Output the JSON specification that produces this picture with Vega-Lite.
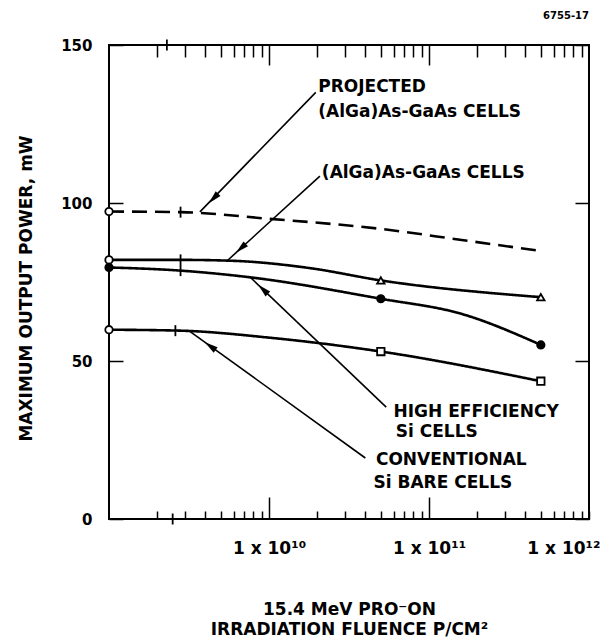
{
  "$schema": "https://vega.github.io/schema/vega-lite/v6.json",
  "width": 480,
  "height": 474,
  "autosize": "none",
  "padding": {"left": 109, "top": 45, "right": 17, "bottom": 122},
  "background": "white",
  "config": {"font": "DejaVu Sans", "view": {"stroke": "black", "strokeWidth": 2}},
  "title": {"text": "6755-17", "anchor": "end", "frame": "group", "fontSize": 10, "font": "DejaVu Sans", "fontWeight": "bold", "offset": 17, "color": "black"},
  "datasets": {
    "lines": [
      {"series": "projected", "fluence": 1e9, "power": 97.3},
      {"series": "projected", "fluence": 2.8e9, "power": 97.1},
      {"series": "projected", "fluence": 1e10, "power": 95.0},
      {"series": "projected", "fluence": 5e10, "power": 91.8},
      {"series": "projected", "fluence": 1.6e11, "power": 88.3},
      {"series": "projected", "fluence": 5e11, "power": 84.8},
      {"series": "algaas", "fluence": 1e9, "power": 82.0},
      {"series": "algaas", "fluence": 2.8e9, "power": 82.0},
      {"series": "algaas", "fluence": 6e9, "power": 81.7},
      {"series": "algaas", "fluence": 1.8e10, "power": 79.4},
      {"series": "algaas", "fluence": 5e10, "power": 75.5},
      {"series": "algaas", "fluence": 5e11, "power": 70.2},
      {"series": "hieff", "fluence": 1e9, "power": 79.6},
      {"series": "hieff", "fluence": 2.8e9, "power": 78.6},
      {"series": "hieff", "fluence": 7.3e9, "power": 76.6},
      {"series": "hieff", "fluence": 5e10, "power": 69.7},
      {"series": "hieff", "fluence": 1.6e11, "power": 64.9},
      {"series": "hieff", "fluence": 5e11, "power": 55.1},
      {"series": "bare", "fluence": 1e9, "power": 59.9},
      {"series": "bare", "fluence": 2.8e9, "power": 59.6},
      {"series": "bare", "fluence": 1e10, "power": 57.4},
      {"series": "bare", "fluence": 5e10, "power": 53.0},
      {"series": "bare", "fluence": 5e11, "power": 43.6}
    ],
    "initial": [
      {"series": "projected", "fluence": 1e9, "power": 97.3},
      {"series": "algaas", "fluence": 1e9, "power": 82.0},
      {"series": "hieff", "fluence": 1e9, "power": 79.6},
      {"series": "bare", "fluence": 1e9, "power": 59.9}
    ],
    "measured": [
      {"series": "algaas", "fluence": 5e10, "power": 75.5},
      {"series": "algaas", "fluence": 5e11, "power": 70.2},
      {"series": "hieff", "fluence": 5e10, "power": 69.7},
      {"series": "hieff", "fluence": 5e11, "power": 55.1},
      {"series": "bare", "fluence": 5e10, "power": 53.0},
      {"series": "bare", "fluence": 5e11, "power": 43.6}
    ],
    "breaks": [
      {"fluence": 2.8e9, "power": 97.1},
      {"fluence": 2.8e9, "power": 82.0},
      {"fluence": 2.8e9, "power": 78.6},
      {"fluence": 2.6e9, "power": 59.6},
      {"fluence": 2.5e9, "power": 0},
      {"fluence": 2.3e9, "power": 150}
    ],
    "leaders": [
      {"id": 1, "fluence": 1.96e10, "power": 135.0, "fluence2": 3.7e9, "power2": 97.2},
      {"id": 2, "fluence": 2.08e10, "power": 108.5, "fluence2": 5.5e9, "power2": 81.8},
      {"id": 3, "fluence": 5.4e10, "power": 35.4, "fluence2": 7.6e9, "power2": 76.6},
      {"id": 4, "fluence": 4.0e10, "power": 19.3, "fluence2": 3.2e9, "power2": 59.4}
    ],
    "arrows": [
      {"id": 1, "fluence": 4.53e9, "power": 101.6},
      {"id": 2, "fluence": 6.72e9, "power": 85.8},
      {"id": 3, "fluence": 9.25e9, "power": 72.5},
      {"id": 4, "fluence": 4.33e9, "power": 54.6}
    ],
    "labels": [
      {"label": "PROJECTED", "fluence": 2.03e10, "power": 136.7},
      {"label": "(AlGa)As-GaAs CELLS", "fluence": 2.03e10, "power": 128.8},
      {"label": "(AlGa)As-GaAs CELLS", "fluence": 2.14e10, "power": 109.5},
      {"label": "HIGH EFFICIENCY", "fluence": 6.0e10, "power": 33.9},
      {"label": "Si CELLS", "fluence": 6.2e10, "power": 27.5},
      {"label": "CONVENTIONAL", "fluence": 4.66e10, "power": 18.7},
      {"label": "Si BARE CELLS", "fluence": 4.5e10, "power": 11.4}
    ]
  },
  "layer": [
    {
      "data": {"name": "lines"},
      "mark": {"type": "line", "interpolate": "monotone", "color": "black", "strokeWidth": 2.6},
      "encoding": {
        "x": {
          "field": "fluence", "type": "quantitative",
          "scale": {"type": "log", "domain": [1e9, 1e12]},
          "axis": {
            "orient": "bottom",
            "values": [2e9, 3e9, 4e9, 5e9, 6e9, 7e9, 8e9, 9e9, 1e10, 2e10, 3e10, 4e10, 5e10, 6e10, 7e10, 8e10, 9e10, 1e11, 2e11, 3e11, 4e11, 5e11, 6e11, 7e11, 8e11, 9e11, 1e12],
            "labelExpr": "datum.value == 1e10 ? '1 x 10¹⁰' : datum.value == 1e11 ? '1 x 10¹¹' : datum.value == 1e12 ? '1 x 10¹²' : ''",
            "tickSize": {"condition": {"test": "datum.value == 1e10 || datum.value == 1e11", "value": -22}, "value": -8},
            "labelPadding": {"condition": {"test": "datum.value == 1e10 || datum.value == 1e11", "value": 43}, "value": 29},
            "tickColor": "black", "tickWidth": 1.5,
            "domain": false, "grid": false,
            "labelOverlap": false,
            "labelFont": "DejaVu Sans", "labelFontWeight": "bold", "labelFontSize": 17, "labelColor": "black",
            "labelFlush": true, "labelFlushOffset": 11,
            "title": ["15.4 MeV PRO⁻ON", "IRRADIATION FLUENCE P/CM²"],
            "titleFont": "DejaVu Sans", "titleFontWeight": "bold", "titleFontSize": 17, "titleColor": "black",
            "titleX": 240, "titleY": 82, "titleAlign": "center", "titleBaseline": "top", "titleLineHeight": 20
          }
        },
        "y": {
          "field": "power", "type": "quantitative",
          "scale": {"domain": [0, 150]},
          "axis": {
            "orient": "left",
            "values": [0, 50, 100, 150],
            "tickSize": -14, "tickWidth": 1.5, "tickColor": "black",
            "domain": false, "grid": false,
            "labelFont": "DejaVu Sans", "labelFontWeight": "bold", "labelFontSize": 15, "labelColor": "black",
            "labelPadding": 31,
            "title": "MAXIMUM OUTPUT POWER, mW",
            "titleFont": "DejaVu Sans", "titleFontWeight": "bold", "titleFontSize": 17, "titleColor": "black",
            "titleX": -83, "titleY": 243, "titleAngle": -90, "titleAlign": "center", "titleBaseline": "middle"
          }
        },
        "detail": {"field": "series"},
        "strokeDash": {
          "field": "series",
          "scale": {"domain": ["projected", "algaas", "hieff", "bare"], "range": [[15, 8], [1, 0], [1, 0], [1, 0]]},
          "legend": null
        }
      }
    },
    {
      "data": {"name": "initial"},
      "mark": {"type": "point", "shape": "circle", "size": 55, "filled": true, "stroke": "black", "strokeWidth": 1.8, "opacity": 1},
      "encoding": {
        "x": {
          "field": "fluence", "type": "quantitative",
          "scale": {"type": "log", "domain": [1e9, 1e12]},
          "axis": {
            "orient": "top",
            "values": [2e9, 3e9, 4e9, 5e9, 6e9, 7e9, 8e9, 9e9, 1e10, 2e10, 3e10, 4e10, 5e10, 6e10, 7e10, 8e10, 9e10, 1e11, 2e11, 3e11, 4e11, 5e11, 6e11, 7e11, 8e11, 9e11],
            "labels": false, "domain": false, "grid": false, "title": null,
            "tickSize": {"condition": {"test": "datum.value == 1e10 || datum.value == 1e11", "value": -20}, "value": -12},
            "tickColor": "black", "tickWidth": 1.5
          }
        },
        "y": {
          "field": "power", "type": "quantitative",
          "scale": {"domain": [0, 150]},
          "axis": {
            "orient": "right", "values": [0, 50, 100, 150],
            "labels": false, "domain": false, "grid": false, "title": null,
            "tickSize": -14, "tickColor": "black", "tickWidth": 1.5
          }
        },
        "fill": {
          "field": "series",
          "scale": {"domain": ["projected", "algaas", "hieff", "bare"], "range": ["white", "white", "black", "white"]},
          "legend": null
        }
      }
    },
    {
      "data": {"name": "measured"},
      "mark": {"type": "point", "size": 55, "filled": true, "stroke": "black", "strokeWidth": 1.8, "opacity": 1},
      "encoding": {
        "x": {"field": "fluence", "type": "quantitative", "scale": {"type": "log", "domain": [1e9, 1e12]}, "axis": null},
        "y": {"field": "power", "type": "quantitative", "scale": {"domain": [0, 150]}, "axis": null},
        "shape": {
          "field": "series",
          "scale": {"domain": ["algaas", "hieff", "bare"], "range": ["triangle-up", "circle", "square"]},
          "legend": null
        },
        "fill": {
          "field": "series",
          "scale": {"domain": ["projected", "algaas", "hieff", "bare"], "range": ["white", "white", "black", "white"]},
          "legend": null
        }
      }
    },
    {
      "data": {"name": "breaks"},
      "mark": {"type": "tick", "orient": "vertical", "color": "black", "size": 11, "thickness": 1.8, "opacity": 1},
      "encoding": {
        "x": {"field": "fluence", "type": "quantitative", "scale": {"type": "log", "domain": [1e9, 1e12]}, "axis": null},
        "y": {"field": "power", "type": "quantitative", "scale": {"domain": [0, 150]}, "axis": null}
      }
    },
    {
      "data": {"name": "leaders"},
      "mark": {"type": "rule", "color": "black", "strokeWidth": 1.6},
      "encoding": {
        "x": {"field": "fluence", "type": "quantitative", "scale": {"type": "log", "domain": [1e9, 1e12]}, "axis": null},
        "y": {"field": "power", "type": "quantitative", "scale": {"domain": [0, 150]}, "axis": null},
        "x2": {"field": "fluence2"},
        "y2": {"field": "power2"}
      }
    },
    {
      "data": {"name": "arrows"},
      "transform": [{"filter": "datum.id == 1"}],
      "mark": {"type": "point", "shape": "M0,-1L0.45,0.8L-0.45,0.8Z", "filled": true, "color": "black", "size": 220, "angle": 224, "opacity": 1},
      "encoding": {
        "x": {"field": "fluence", "type": "quantitative", "scale": {"type": "log", "domain": [1e9, 1e12]}, "axis": null},
        "y": {"field": "power", "type": "quantitative", "scale": {"domain": [0, 150]}, "axis": null}
      }
    },
    {
      "data": {"name": "arrows"},
      "transform": [{"filter": "datum.id == 2"}],
      "mark": {"type": "point", "shape": "M0,-1L0.45,0.8L-0.45,0.8Z", "filled": true, "color": "black", "size": 220, "angle": 227.6, "opacity": 1},
      "encoding": {
        "x": {"field": "fluence", "type": "quantitative", "scale": {"type": "log", "domain": [1e9, 1e12]}, "axis": null},
        "y": {"field": "power", "type": "quantitative", "scale": {"domain": [0, 150]}, "axis": null}
      }
    },
    {
      "data": {"name": "arrows"},
      "transform": [{"filter": "datum.id == 3"}],
      "mark": {"type": "point", "shape": "M0,-1L0.45,0.8L-0.45,0.8Z", "filled": true, "color": "black", "size": 220, "angle": 313.7, "opacity": 1},
      "encoding": {
        "x": {"field": "fluence", "type": "quantitative", "scale": {"type": "log", "domain": [1e9, 1e12]}, "axis": null},
        "y": {"field": "power", "type": "quantitative", "scale": {"domain": [0, 150]}, "axis": null}
      }
    },
    {
      "data": {"name": "arrows"},
      "transform": [{"filter": "datum.id == 4"}],
      "mark": {"type": "point", "shape": "M0,-1L0.45,0.8L-0.45,0.8Z", "filled": true, "color": "black", "size": 220, "angle": 305.8, "opacity": 1},
      "encoding": {
        "x": {"field": "fluence", "type": "quantitative", "scale": {"type": "log", "domain": [1e9, 1e12]}, "axis": null},
        "y": {"field": "power", "type": "quantitative", "scale": {"domain": [0, 150]}, "axis": null}
      }
    },
    {
      "data": {"name": "labels"},
      "mark": {"type": "text", "align": "left", "baseline": "middle", "font": "DejaVu Sans", "fontWeight": "bold", "fontSize": 17, "color": "black"},
      "encoding": {
        "x": {"field": "fluence", "type": "quantitative", "scale": {"type": "log", "domain": [1e9, 1e12]}, "axis": null},
        "y": {"field": "power", "type": "quantitative", "scale": {"domain": [0, 150]}, "axis": null},
        "text": {"field": "label"}
      }
    }
  ]
}
